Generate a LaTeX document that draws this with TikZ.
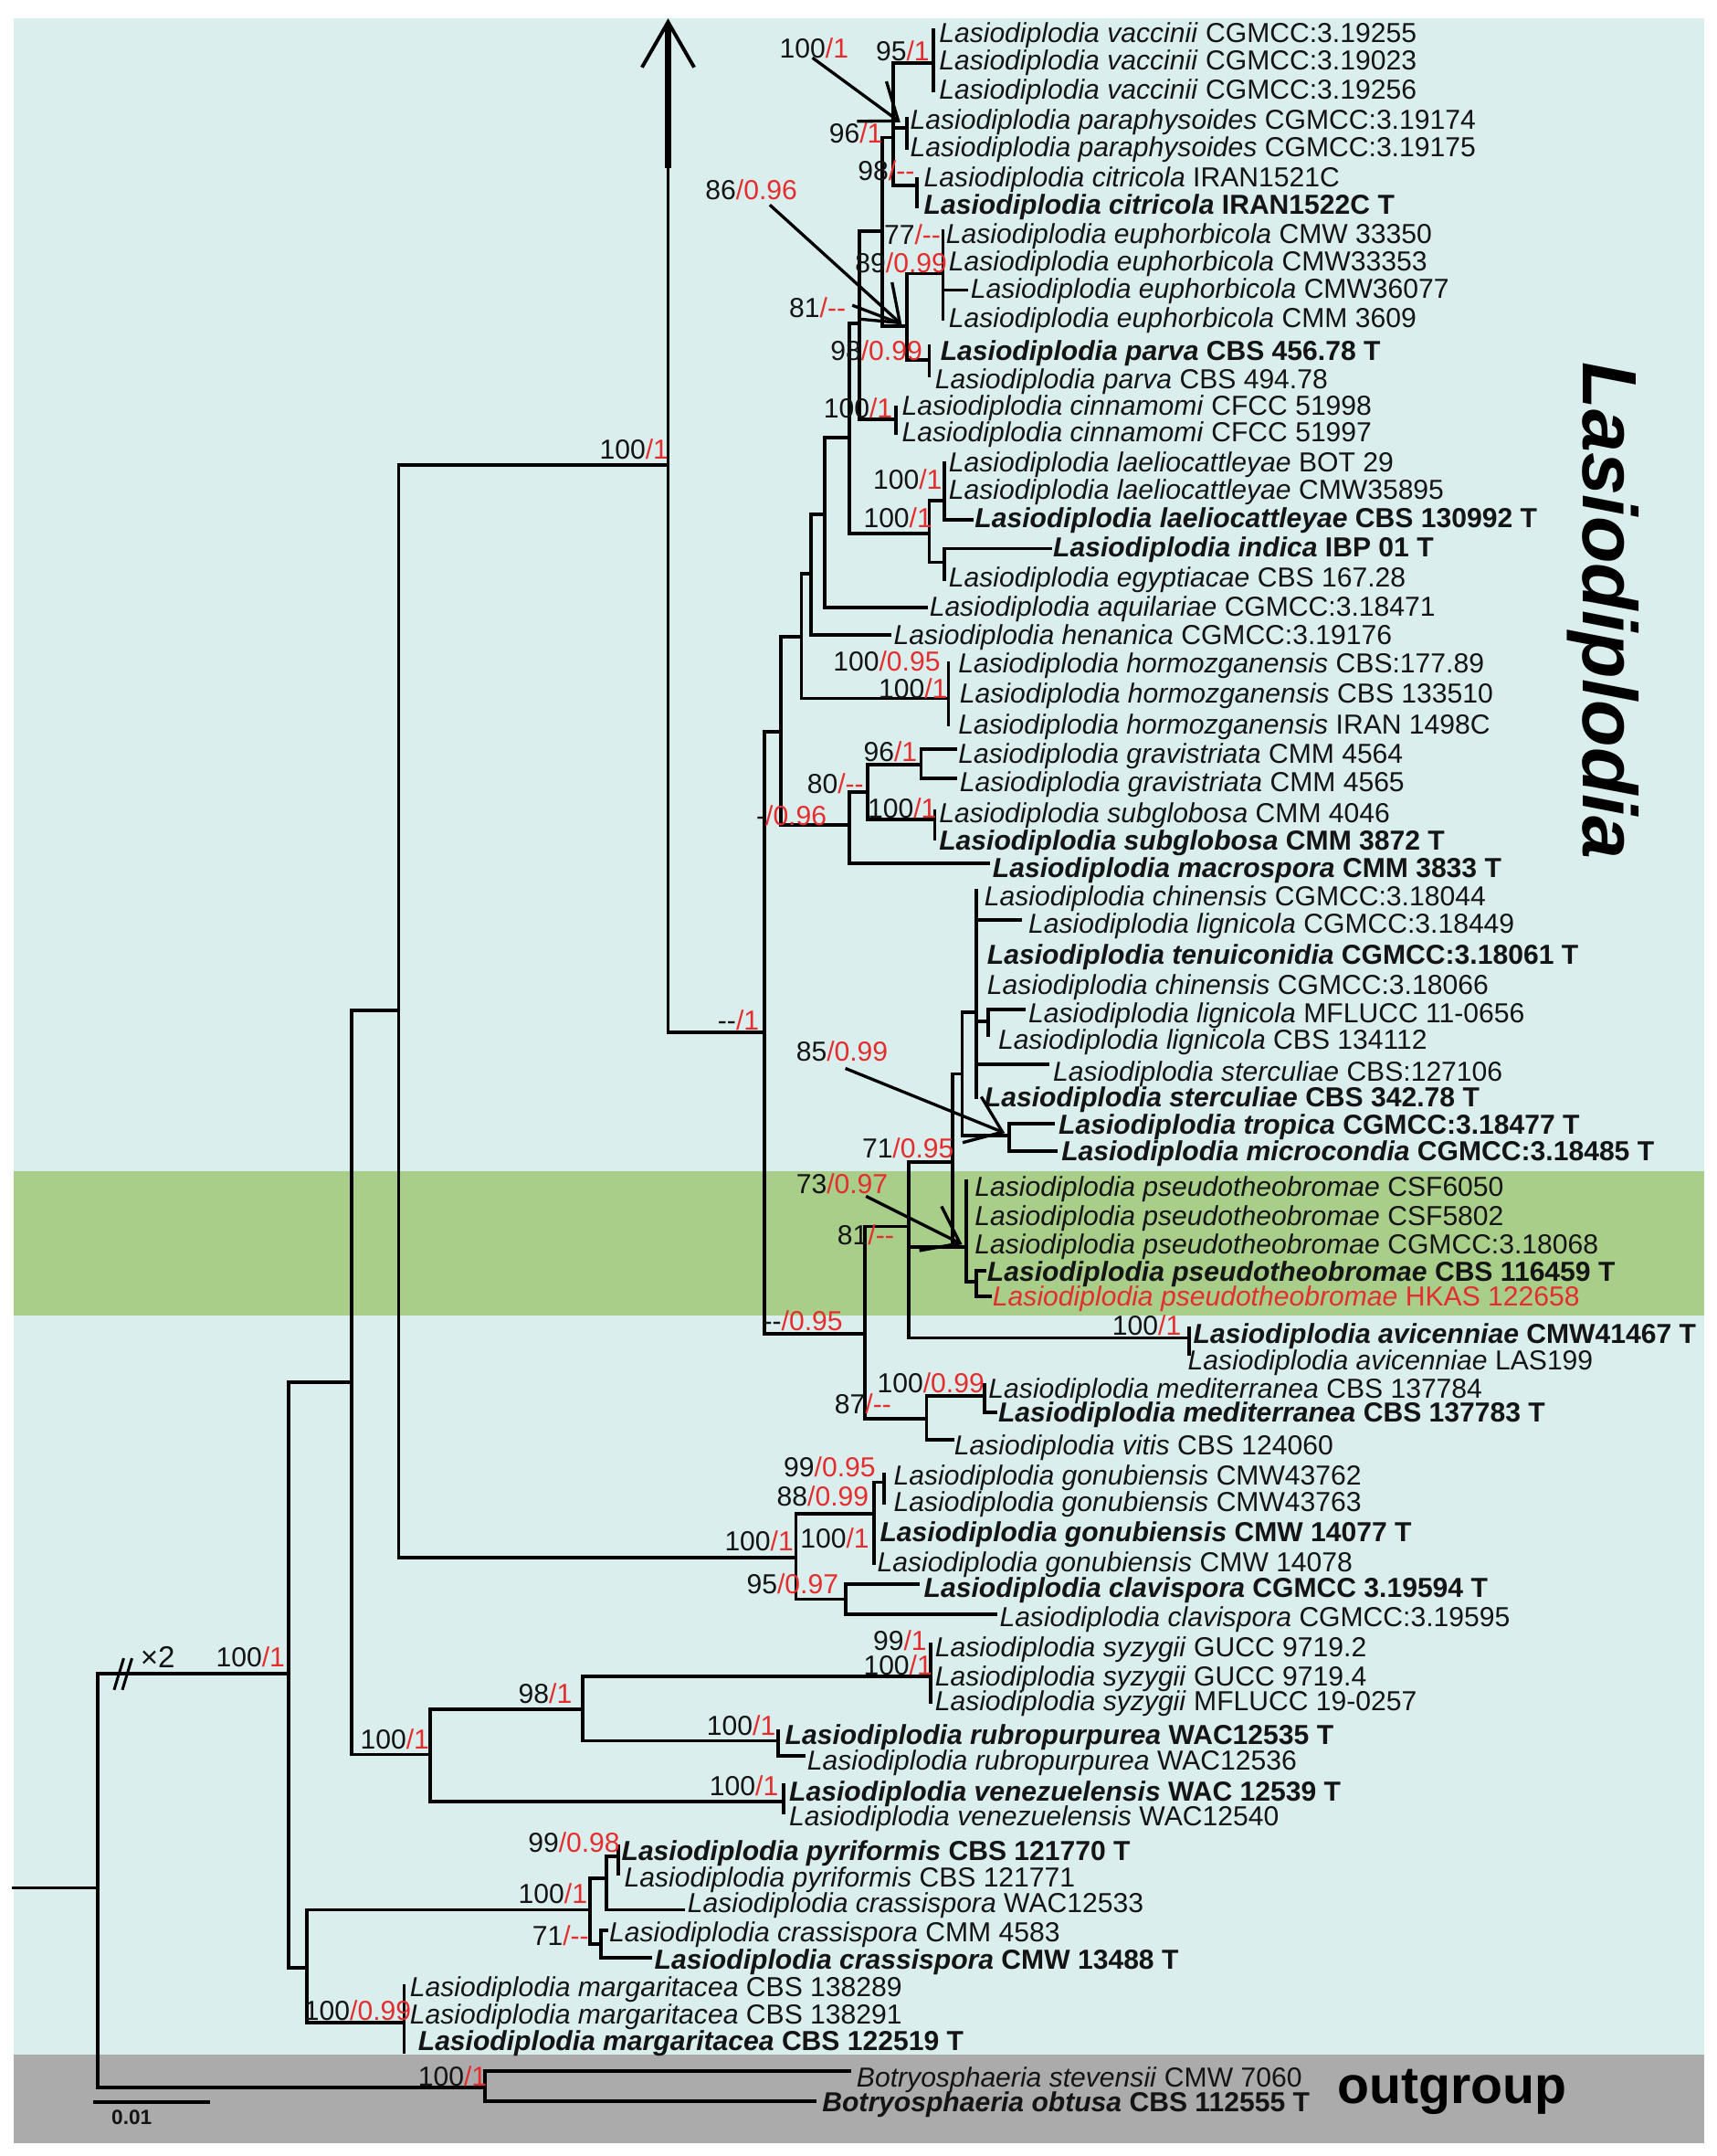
\documentclass[tikz,border=0pt]{standalone}
\usepackage{fontspec}
\setmainfont{Liberation Sans}
\usetikzlibrary{arrows.meta}
\definecolor{bgcyan}{RGB}{219,238,238}
\definecolor{bggreen}{RGB}{168,206,138}
\definecolor{bggray}{RGB}{171,171,171}
\definecolor{bsred}{RGB}{228,45,45}
\definecolor{ink}{RGB}{20,20,20}
\newcommand{\Ls}[1]{\textit{Lasiodiplodia #1}}
\newcommand{\Bs}[1]{\textit{Botryosphaeria #1}}
\newcommand{\sv}[2]{#1\textcolor{bsred}{/#2}}
\newcommand{\dd}{-\kern0pt-}
\begin{document}
\begin{tikzpicture}[x=1pt,y=-1pt,
  br/.style={line width=2.5pt, line cap=rect, line join=miter},
  taxon/.style={anchor=base west, inner sep=0pt, font=\fontsize{20}{24}\selectfont, text=ink},
  bootlab/.style={anchor=base west, inner sep=0pt, font=\fontsize{20}{24}\selectfont, text=ink},
  ptr/.style={line width=2.2pt, -{Straight Barb[length=24pt,width=36pt]}},
]
\useasboundingbox (0,0) rectangle (1249,1568);
\fill[white] (0,0) rectangle (1249,1568);
\fill[bgcyan] (10,13) rectangle (1240,1494);
\fill[bggreen] (10,852) rectangle (1240,957);
\fill[bggray] (10,1494) rectangle (1240,1559);

% ---------------- tree branches ----------------
\draw[br] (10,1373) -- (71,1373);
\draw[br] (210,1217) -- (71,1217) -- (71,1518) -- (353,1518);
\draw[br] (618,1506) -- (353,1506) -- (353,1528) -- (593,1528);
\draw[br] (256,1005) -- (210,1005) -- (210,1431) -- (223,1431);
\draw[br] (429,1389) -- (223,1389) -- (223,1471) -- (294,1471);
\draw[br] (294,1444) -- (294,1492);
\draw[br] (441,1366) -- (429,1366) -- (429,1414) -- (437,1414);
\draw[br] (450,1350) -- (441,1350) -- (441,1389) -- (497,1389);
\draw[br] (450,1343) -- (450,1363);
\draw[br] (441,1404) -- (437,1404) -- (437,1424) -- (473,1424);
\draw[br] (290,735) -- (256,735) -- (256,1276) -- (313,1276);
\draw[br] (424,1243) -- (313,1243) -- (313,1310) -- (570,1310);
\draw[br] (570,1298) -- (570,1318);
\draw[br] (677,1219) -- (424,1219) -- (424,1266) -- (566,1266);
\draw[br] (677,1196) -- (677,1238);
\draw[br] (566,1259) -- (566,1277) -- (585,1277);
\draw[br] (486,338) -- (290,338) -- (290,1133) -- (579,1133);
\draw[br] (636,1101) -- (579,1101) -- (579,1163) -- (615,1163);
\draw[br] (643,1078) -- (636,1078) -- (636,1137);
\draw[br] (643,1072) -- (643,1093);
\draw[br] (668,1152) -- (615,1152) -- (615,1174) -- (724,1174);
\draw[br] (486,16) -- (486,751) -- (556,751);
\draw[line width=4.8pt] (486,18) -- (486,122);
\draw[line width=2.6pt, line join=miter] (467,49) -- (486,16) -- (505,49);
\draw[br] (568,532) -- (556,532) -- (556,970) -- (629,970);
\draw[br] (583,463) -- (568,463) -- (568,600) -- (618,600);
\draw[br] (590,417) -- (583,417) -- (583,508) -- (690,508);
\draw[br] (690,482) -- (690,527);
\draw[br] (600,374) -- (590,374) -- (590,462) -- (647,462);
\draw[br] (618,318) -- (600,318) -- (600,442) -- (674,442);
\draw[br] (625,235) -- (618,235) -- (618,388) -- (676,388);
\draw[br] (642,168) -- (625,168) -- (625,305) -- (652,305);
\draw[br] (652,296) -- (652,315);
\draw[br] (650,100) -- (642,100) -- (642,237) -- (660,237);
\draw[br] (679,46) -- (650,46) -- (650,135) -- (667,135);
\draw[br] (650,93) -- (660,93);
\draw[br] (679,22) -- (679,66);
\draw[br] (660,86) -- (660,108);
\draw[br] (667,130) -- (667,150);
\draw[br] (686,199) -- (660,199) -- (660,262) -- (676,262);
\draw[br] (686,168) -- (686,232);
\draw[br] (686,211) -- (703,211);
\draw[br] (676,252) -- (676,273);
\draw[br] (687,364) -- (676,364) -- (676,409) -- (687,409);
\draw[br] (687,337) -- (687,378) -- (707,378);
\draw[br] (764,399) -- (687,399) -- (687,421);
\draw[br] (631,576) -- (618,576) -- (618,628) -- (719,628);
\draw[br] (670,556) -- (631,556) -- (631,596) -- (680,596);
\draw[br] (695,545) -- (670,545) -- (670,566) -- (695,566);
\draw[br] (680,590) -- (680,610);
\draw[br] (661,892) -- (629,892) -- (629,1032) -- (674,1032);
\draw[br] (693,845) -- (661,845) -- (661,973) -- (865,973);
\draw[br] (661,907) -- (703,907);
\draw[br] (865,966) -- (865,985);
\draw[br] (700,781) -- (693,781) -- (693,907);
\draw[br] (710,736) -- (700,736) -- (700,826) -- (734,826);
\draw[br] (710,648) -- (710,798);
\draw[br] (710,669) -- (742,669);
\draw[br] (710,743) -- (719,743);
\draw[br] (745,734) -- (719,734) -- (719,753);
\draw[br] (710,774) -- (762,774);
\draw[br] (766,817) -- (734,817) -- (734,837) -- (768,837);
\draw[br] (703,859) -- (703,932) -- (710,932);
\draw[br] (716,924) -- (710,924) -- (710,943) -- (720,943);
\draw[br] (716,1015) -- (674,1015) -- (674,1047) -- (693,1047);
\draw[br] (716,1007) -- (716,1027) -- (724,1027);

% break marks and scale bar
\draw[line width=2pt] (83,1229) -- (90,1206);
\draw[line width=2pt] (89,1229) -- (96,1206);
\draw[line width=2.5pt] (68,1529) -- (153,1529);
\node[anchor=base west, inner sep=0pt, font=\fontsize{15}{16}\selectfont\bfseries, text=ink] (scale) at (81,1545) {0.01};
\node[anchor=base west, inner sep=0pt, font=\fontsize{22}{24}\selectfont, text=ink] (times) at (102,1213) {×2};

% ---------------- taxa ----------------
\node[taxon] (t1) at (683,31) {\Ls{vaccinii} CGMCC:3.19255};
\node[taxon] (t2) at (683,51) {\Ls{vaccinii} CGMCC:3.19023};
\node[taxon] (t3) at (683,72) {\Ls{vaccinii} CGMCC:3.19256};
\node[taxon] (t4) at (662,94) {\Ls{paraphysoides} CGMCC:3.19174};
\node[taxon] (t5) at (662,114) {\Ls{paraphysoides} CGMCC:3.19175};
\node[taxon] (t6) at (672,136) {\Ls{citricola} IRAN1521C};
\node[taxon] (t7) at (672,156) {\bfseries\Ls{citricola} IRAN1522C T};
\node[taxon] (t8) at (688,177) {\Ls{euphorbicola} CMW 33350};
\node[taxon] (t9) at (690,197) {\Ls{euphorbicola} CMW33353};
\node[taxon] (t10) at (706,217) {\Ls{euphorbicola} CMW36077};
\node[taxon] (t11) at (690,238) {\Ls{euphorbicola} CMM 3609};
\node[taxon] (t12) at (684,262) {\bfseries\Ls{parva} CBS 456.78 T};
\node[taxon] (t13) at (680,283) {\Ls{parva} CBS 494.78};
\node[taxon] (t14) at (656,302) {\Ls{cinnamomi} CFCC 51998};
\node[taxon] (t15) at (656,321) {\Ls{cinnamomi} CFCC 51997};
\node[taxon] (t16) at (690,343) {\Ls{laeliocattleyae} BOT 29};
\node[taxon] (t17) at (690,363) {\Ls{laeliocattleyae} CMW35895};
\node[taxon] (t18) at (709,384) {\bfseries\Ls{laeliocattleyae} CBS 130992 T};
\node[taxon] (t19) at (766,405) {\bfseries\Ls{indica} IBP 01 T};
\node[taxon] (t20) at (690,427) {\Ls{egyptiacae} CBS 167.28};
\node[taxon] (t21) at (676,448) {\Ls{aquilariae} CGMCC:3.18471};
\node[taxon] (t22) at (650,469) {\Ls{henanica} CGMCC:3.19176};
\node[taxon] (t23) at (697,489) {\Ls{hormozganensis} CBS:177.89};
\node[taxon] (t24) at (698,511) {\Ls{hormozganensis} CBS 133510};
\node[taxon] (t25) at (697,534) {\Ls{hormozganensis} IRAN 1498C};
\node[taxon] (t26) at (697,555) {\Ls{gravistriata} CMM 4564};
\node[taxon] (t27) at (698,576) {\Ls{gravistriata} CMM 4565};
\node[taxon] (t28) at (683,598) {\Ls{subglobosa} CMM 4046};
\node[taxon] (t29) at (683,618) {\bfseries\Ls{subglobosa} CMM 3872 T};
\node[taxon] (t30) at (722,638) {\bfseries\Ls{macrospora} CMM 3833 T};
\node[taxon] (t31) at (716,659) {\Ls{chinensis} CGMCC:3.18044};
\node[taxon] (t32) at (748,679) {\Ls{lignicola} CGMCC:3.18449};
\node[taxon] (t33) at (718,701) {\bfseries\Ls{tenuiconidia} CGMCC:3.18061 T};
\node[taxon] (t34) at (718,723) {\Ls{chinensis} CGMCC:3.18066};
\node[taxon] (t35) at (748,744) {\Ls{lignicola} MFLUCC 11-0656};
\node[taxon] (t36) at (726,763) {\Ls{lignicola} CBS 134112};
\node[taxon] (t37) at (766,786) {\Ls{sterculiae} CBS:127106};
\node[taxon] (t38) at (716,805) {\bfseries\Ls{sterculiae} CBS 342.78 T};
\node[taxon] (t39) at (770,825) {\bfseries\Ls{tropica} CGMCC:3.18477 T};
\node[taxon] (t40) at (772,844) {\bfseries\Ls{microcondia} CGMCC:3.18485 T};
\node[taxon] (t41) at (709,870) {\Ls{pseudotheobromae} CSF6050};
\node[taxon] (t42) at (709,891) {\Ls{pseudotheobromae} CSF5802};
\node[taxon] (t43) at (709,912) {\Ls{pseudotheobromae} CGMCC:3.18068};
\node[taxon] (t44) at (718,932) {\bfseries\Ls{pseudotheobromae} CBS 116459 T};
\node[taxon, text=bsred] (t45) at (722,950) {\Ls{pseudotheobromae} HKAS 122658};
\node[taxon] (t46) at (868,977) {\bfseries\Ls{avicenniae} CMW41467 T};
\node[taxon] (t47) at (864,996) {\Ls{avicenniae} LAS199};
\node[taxon] (t48) at (719,1017) {\Ls{mediterranea} CBS 137784};
\node[taxon] (t49) at (726,1034) {\bfseries\Ls{mediterranea} CBS 137783 T};
\node[taxon] (t50) at (694,1058) {\Ls{vitis} CBS 124060};
\node[taxon] (t51) at (650,1080) {\Ls{gonubiensis} CMW43762};
\node[taxon] (t52) at (650,1099) {\Ls{gonubiensis} CMW43763};
\node[taxon] (t53) at (640,1121) {\bfseries\Ls{gonubiensis} CMW 14077 T};
\node[taxon] (t54) at (638,1143) {\Ls{gonubiensis} CMW 14078};
\node[taxon] (t55) at (672,1162) {\bfseries\Ls{clavispora} CGMCC 3.19594 T};
\node[taxon] (t56) at (727,1183) {\Ls{clavispora} CGMCC:3.19595};
\node[taxon] (t57) at (680,1205) {\Ls{syzygii} GUCC 9719.2};
\node[taxon] (t58) at (680,1226) {\Ls{syzygii} GUCC 9719.4};
\node[taxon] (t59) at (680,1244) {\Ls{syzygii} MFLUCC 19-0257};
\node[taxon] (t60) at (571,1269) {\bfseries\Ls{rubropurpurea} WAC12535 T};
\node[taxon] (t61) at (587,1287) {\Ls{rubropurpurea} WAC12536};
\node[taxon] (t62) at (574,1310) {\bfseries\Ls{venezuelensis} WAC 12539 T};
\node[taxon] (t63) at (574,1328) {\Ls{venezuelensis} WAC12540};
\node[taxon] (t64) at (452,1353) {\bfseries\Ls{pyriformis} CBS 121770 T};
\node[taxon] (t65) at (454,1372) {\Ls{pyriformis} CBS 121771};
\node[taxon] (t66) at (500,1391) {\Ls{crassispora} WAC12533};
\node[taxon] (t67) at (443,1412) {\Ls{crassispora} CMM 4583};
\node[taxon] (t68) at (476,1432) {\bfseries\Ls{crassispora} CMW 13488 T};
\node[taxon] (t69) at (298,1452) {\Ls{margaritacea} CBS 138289};
\node[taxon] (t70) at (298,1472) {\Ls{margaritacea} CBS 138291};
\node[taxon] (t71) at (304,1491) {\bfseries\Ls{margaritacea} CBS 122519 T};
\node[taxon] (t72) at (623,1518) {\Bs{stevensii} CMW 7060};
\node[taxon] (t73) at (598,1536) {\bfseries\Bs{obtusa} CBS 112555 T};

% ---------------- support values ----------------
\node[bootlab] (b1) at (567,42) {\sv{100}{1}};
\node[bootlab] (b2) at (637,44) {\sv{95}{1}};
\node[bootlab] (b3) at (603,104) {\sv{96}{1}};
\node[bootlab] (b4) at (624,131) {\sv{98}{\dd}};
\node[bootlab] (b5) at (513,145) {\sv{86}{0.96}};
\node[bootlab] (b6) at (643,178) {\sv{77}{\dd}};
\node[bootlab] (b7) at (622,198) {\sv{89}{0.99}};
\node[bootlab] (b8) at (574,231) {\sv{81}{\dd}};
\node[bootlab] (b9) at (604,262) {\sv{98}{0.99}};
\node[bootlab] (b10) at (599,304) {\sv{100}{1}};
\node[bootlab] (b11) at (635,356) {\sv{100}{1}};
\node[bootlab] (b12) at (628,384) {\sv{100}{1}};
\node[bootlab] (b13) at (436,334) {\sv{100}{1}};
\node[bootlab] (b14) at (606,488) {\sv{100}{0.95}};
\node[bootlab] (b15) at (639,508) {\sv{100}{1}};
\node[bootlab] (b16) at (628,554) {\sv{96}{1}};
\node[bootlab] (b17) at (587,577) {\sv{80}{\dd}};
\node[bootlab] (b18) at (631,595) {\sv{100}{1}};
\node[bootlab] (b19) at (550,600) {\sv{-}{0.96}};
\node[bootlab] (b20) at (522,749) {\sv{\dd}{1}};
\node[bootlab] (b21) at (579,772) {\sv{85}{0.99}};
\node[bootlab] (b22) at (627,842) {\sv{71}{0.95}};
\node[bootlab] (b23) at (579,868) {\sv{73}{0.97}};
\node[bootlab] (b24) at (609,905) {\sv{81}{\dd}};
\node[bootlab] (b25) at (555,968) {\sv{\dd}{0.95}};
\node[bootlab] (b26) at (809,971) {\sv{100}{1}};
\node[bootlab] (b27) at (638,1013) {\sv{100}{0.99}};
\node[bootlab] (b28) at (607,1028) {\sv{87}{\dd}};
\node[bootlab] (b29) at (570,1074) {\sv{99}{0.95}};
\node[bootlab] (b30) at (565,1095) {\sv{88}{0.99}};
\node[bootlab] (b31) at (527,1128) {\sv{100}{1}};
\node[bootlab] (b32) at (582,1126) {\sv{100}{1}};
\node[bootlab] (b33) at (543,1159) {\sv{95}{0.97}};
\node[bootlab] (b34) at (635,1200) {\sv{99}{1}};
\node[bootlab] (b35) at (628,1218) {\sv{100}{1}};
\node[bootlab] (b36) at (377,1239) {\sv{98}{1}};
\node[bootlab] (b37) at (514,1262) {\sv{100}{1}};
\node[bootlab] (b38) at (262,1272) {\sv{100}{1}};
\node[bootlab] (b39) at (516,1306) {\sv{100}{1}};
\node[bootlab] (b40) at (384,1347) {\sv{99}{0.98}};
\node[bootlab] (b41) at (377,1384) {\sv{100}{1}};
\node[bootlab] (b42) at (387,1415) {\sv{71}{\dd}};
\node[bootlab] (b43) at (221,1469) {\sv{100}{0.99}};
\node[bootlab] (b44) at (157,1212) {\sv{100}{1}};
\node[bootlab] (b45) at (304,1517) {\sv{100}{1}};

% ---------------- pointers ----------------
\coordinate (p1a) at (591,42);  \coordinate (p1b) at (655,89);
\coordinate (p2a) at (560,149); \coordinate (p2b) at (656,236);
\coordinate (p3a) at (620,222); \coordinate (p3b) at (654,235);
\coordinate (p4a) at (615,777); \coordinate (p4b) at (731,824);
\coordinate (p5a) at (630,870); \coordinate (p5b) at (700,905);
\draw[ptr] (p1a) -- (p1b);
\draw[ptr] (p2a) -- (p2b);
\draw[line width=2.2pt] (p3a) -- (p3b);
\draw[ptr] (p4a) -- (p4b);
\draw[ptr] (p5a) -- (p5b);

% ---------------- group labels ----------------
\node[rotate=-90, inner sep=0pt, font=\fontsize{56}{60}\selectfont\bfseries\itshape, text=black] (genus) at (1166,444) {Lasiodiplodia};
\node[anchor=base west, inner sep=0pt, font=\fontsize{38}{40}\selectfont\bfseries, text=black] (outg) at (973,1530) {outgroup};
\end{tikzpicture}
\end{document}
